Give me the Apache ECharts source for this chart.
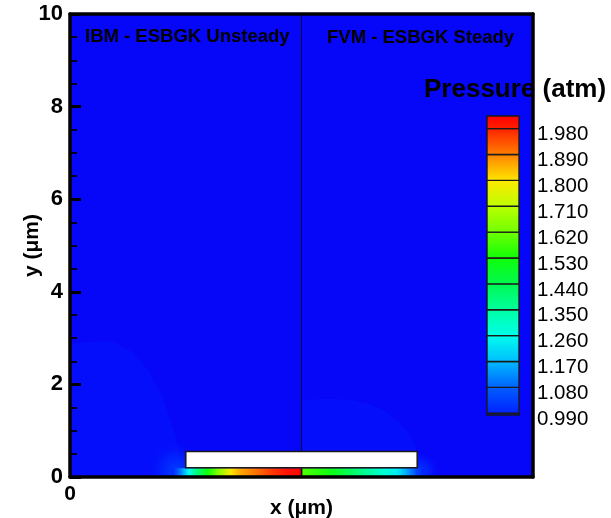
<!DOCTYPE html>
<html><head><meta charset="utf-8">
<script src="https://cdn.jsdelivr.net/npm/echarts@6/dist/echarts.min.js"></script>
<style>html,body{margin:0;padding:0;background:#fff}#c{width:611px;height:518px}</style>
</head><body><div id="c"></div>
<script>
const FONT = '"Liberation Sans", Arial, Helvetica, sans-serif';

// ---- axes ----
const xRange = [0, 10];
const yRange = [0, 10];
const yTickStep = 2;
const xTickLabels = [0];

// ---- colour bar ----
const levels = [0.990, 1.080, 1.170, 1.260, 1.350, 1.440, 1.530, 1.620, 1.710, 1.800, 1.890, 1.980];
const barMin = 0.984, barMax = 2.024;

// ---- colour map (pressure -> colour) ----
const cmapValues = [0.984, 0.99, 1.08, 1.17, 1.26, 1.35, 1.44, 1.53, 1.62, 1.71, 1.80, 1.89, 1.98, 2.024];
const cmapColors = ['#0606f8', '#0020ff', '#0060ff', '#00bcff', '#00ffec', '#00ffa0', '#00f850', '#10ff08', '#70ff00', '#bcff00', '#ffe800', '#ff8000', '#ff2000', '#ff0000'];

// ---- pressure field (atm) ----
const backgroundPressure = 0.984;
// IBM (left half) slightly raised far-field region
const ibmBlobX = [0, 0, 0.4, 0.9, 1.36, 1.7, 2.0, 2.2, 2.35, 2.42];
const ibmBlobY = [0, 2.88, 2.92, 2.93, 2.7, 2.3, 1.75, 1.15, 0.6, 0];
const ibmBlobP = 0.9858;
// FVM (right half) slightly raised region
const fvmBlobX = [5, 5, 5.6, 6.1, 6.5, 6.8, 7.1, 7.3, 7.45, 7.55, 7.6];
const fvmBlobY = [0, 1.67, 1.69, 1.67, 1.57, 1.43, 1.2, 0.98, 0.7, 0.4, 0];
const fvmBlobP = 0.9858;
// glows at the plate ends: [x, y, radius, pressure]
const glowX = [2.3, 7.55];
const glowY = [0.15, 0.12];
const glowR = [0.62, 0.45];
const glowP = [1.03, 1.02];
// pressure along the gap under the plate
const ibmGapX = [2.2, 2.35, 2.48, 2.57, 2.75, 2.98, 3.2, 3.46, 3.7, 4.0, 4.38, 4.7, 5.0];
const ibmGapP = [0.99, 1.08, 1.17, 1.26, 1.40, 1.53, 1.64, 1.79, 1.86, 1.90, 1.96, 2.00, 2.02];
const fvmGapX = [5.0, 5.62, 6.34, 6.77, 7.06, 7.27, 7.49, 7.65];
const fvmGapP = [1.59, 1.52, 1.37, 1.29, 1.24, 1.15, 1.04, 0.99];
const gapTop = 0.19;
// plate and divider
const plateX = [2.5, 7.5];
const plateY = [0.2, 0.55];
const dividerX = 5;

function hexToRgb(h) { return [parseInt(h.slice(1,3),16), parseInt(h.slice(3,5),16), parseInt(h.slice(5,7),16)]; }
function cmap(p, alpha) {
  let i = 0;
  if (p <= cmapValues[0]) i = 0;
  else if (p >= cmapValues[cmapValues.length-1]) i = cmapValues.length - 2;
  else { while (p > cmapValues[i+1]) i++; }
  const a = hexToRgb(cmapColors[i]), b = hexToRgb(cmapColors[i+1]);
  let t = (p - cmapValues[i]) / (cmapValues[i+1] - cmapValues[i]);
  t = Math.max(0, Math.min(1, t));
  const c = a.map((v, k) => Math.round(v + (b[k]-v)*t));
  return 'rgba(' + c[0] + ',' + c[1] + ',' + c[2] + ',' + (alpha == null ? 1 : alpha) + ')';
}

const bands = [];
const bandEdges = [barMin].concat(levels, [barMax]);
for (let i = 0; i < bandEdges.length - 1; i++) bands.push([bandEdges[i], bandEdges[i+1]]);

function rectFrom(api, x0, y0, x1, y1) {
  const a = api.coord([x0, y1]), b = api.coord([x1, y0]);
  return { x: a[0], y: a[1], width: b[0]-a[0], height: b[1]-a[1] };
}

const chart = echarts.init(document.getElementById('c'), null, { renderer: 'canvas' });
const option = {
  animation: false,
  backgroundColor: '#fff',
  textStyle: { fontFamily: FONT },
  grid: [
    { left: 70, top: 14, width: 463, height: 463, outerBoundsMode: 'none', containLabel: false },
    { left: 487, top: 116, width: 32, height: 299, outerBoundsMode: 'none', containLabel: false }
  ],
  xAxis: [
    { gridIndex: 0, type: 'value', min: xRange[0], max: xRange[1], interval: 2, z: 10,
      axisLine: { show: true, onZero: false, lineStyle: { color: '#000', width: 3.5 } },
      axisTick: { show: false }, splitLine: { show: false },
      axisLabel: { fontFamily: FONT, fontSize: 21, fontWeight: 'bold', color: '#000', margin: 7,
        formatter: v => xTickLabels.indexOf(v) >= 0 ? String(v) : '' },
      name: 'x (μm)', nameLocation: 'middle', nameGap: 21, nameMoveOverlap: false,
      nameTextStyle: { fontFamily: FONT, fontSize: 21, fontWeight: 'bold', color: '#000' } },
    { gridIndex: 0, type: 'value', min: xRange[0], max: xRange[1], position: 'top', z: 10,
      axisLine: { show: true, onZero: false, lineStyle: { color: '#000', width: 3.5 } },
      axisTick: { show: false }, axisLabel: { show: false }, splitLine: { show: false } },
    { gridIndex: 1, type: 'value', min: 0, max: 1, show: false }
  ],
  yAxis: [
    { gridIndex: 0, type: 'value', min: yRange[0], max: yRange[1], interval: yTickStep, z: 10,
      axisLine: { show: true, onZero: false, lineStyle: { color: '#000', width: 3.5 } },
      axisTick: { show: true, inside: true, length: 11, lineStyle: { color: '#000', width: 3 } },
      minorTick: { show: true, splitNumber: 4, length: 7, lineStyle: { color: '#000', width: 1.8 } },
      splitLine: { show: false },
      axisLabel: { fontFamily: FONT, fontSize: 22, fontWeight: 'bold', color: '#000', margin: 7 },
      name: 'y (μm)', nameLocation: 'middle', nameGap: 27, nameMoveOverlap: false,
      nameTextStyle: { fontFamily: FONT, fontSize: 21, fontWeight: 'bold', color: '#000' } },
    { gridIndex: 0, type: 'value', min: yRange[0], max: yRange[1], position: 'right', z: 10,
      axisLine: { show: true, onZero: false, lineStyle: { color: '#000', width: 3.5 } },
      axisTick: { show: false }, axisLabel: { show: false }, splitLine: { show: false } },
    { gridIndex: 1, type: 'value', min: barMin, max: barMax, position: 'right',
      axisLine: { show: false }, axisTick: { show: false }, splitLine: { show: false },
      axisLabel: { customValues: levels, fontFamily: FONT, fontSize: 20.5, color: '#000', margin: 18,
        verticalAlign: 'top', lineHeight: 12, formatter: v => v.toFixed(3) } }
  ],
  series: [
    { type: 'custom', name: 'background', xAxisIndex: 0, yAxisIndex: 0, z: 1, clip: true,
      data: [[backgroundPressure]],
      renderItem: (params, api) => ({ type: 'rect',
        shape: rectFrom(api, xRange[0], yRange[0], xRange[1], yRange[1]),
        style: { fill: cmap(api.value(0)) } }) },
    { type: 'custom', name: 'regions', xAxisIndex: 0, yAxisIndex: 0, z: 1, clip: true,
      data: [[ibmBlobP], [fvmBlobP]],
      renderItem: (params, api) => {
        const xs = params.dataIndex === 0 ? ibmBlobX : fvmBlobX;
        const ys = params.dataIndex === 0 ? ibmBlobY : fvmBlobY;
        return { type: 'polygon', shape: { points: xs.map((x, i) => api.coord([x, ys[i]])) },
          style: { fill: cmap(api.value(0)) } };
      } },
    { type: 'custom', name: 'glows', xAxisIndex: 0, yAxisIndex: 0, z: 1, clip: true,
      data: glowX.map((x, i) => [x, glowY[i], glowR[i], glowP[i]]),
      renderItem: (params, api) => {
        const c = api.coord([api.value(0), api.value(1)]);
        const e = api.coord([api.value(0) + api.value(2), api.value(1)]);
        const r = e[0] - c[0];
        const p = api.value(3);
        return { type: 'circle', shape: { cx: c[0], cy: c[1], r: r },
          style: { fill: { type: 'radial', x: 0.5, y: 0.5, r: 0.5, colorStops: [
            { offset: 0, color: cmap(p, 1) }, { offset: 0.5, color: cmap((p + ibmBlobP) / 2, 0.6) },
            { offset: 1, color: cmap(ibmBlobP, 0) }] } } };
      } },
    { type: 'custom', name: 'gap', xAxisIndex: 0, yAxisIndex: 0, z: 2, clip: true,
      data: [[0], [1]],
      renderItem: (params, api) => {
        const xs = params.dataIndex === 0 ? ibmGapX : fvmGapX;
        const ps = params.dataIndex === 0 ? ibmGapP : fvmGapP;
        const x0 = xs[0], x1 = xs[xs.length-1];
        return { type: 'rect', shape: rectFrom(api, x0, 0, x1, gapTop),
          style: { fill: { type: 'linear', x: 0, y: 0, x2: 1, y2: 0,
            colorStops: xs.map((x, i) => ({ offset: (x - x0) / (x1 - x0), color: cmap(ps[i]) })) } } };
      } },
    { type: 'line', name: 'divider', xAxisIndex: 0, yAxisIndex: 0, z: 3, symbol: 'none',
      data: [[dividerX, plateY[1]], [dividerX, yRange[1]]],
      lineStyle: { color: '#0a0a3a', width: 1 } },
    { type: 'line', name: 'gapDivider', xAxisIndex: 0, yAxisIndex: 0, z: 3, symbol: 'none',
      data: [[dividerX, 0], [dividerX, gapTop]],
      lineStyle: { color: '#111', width: 1.8 } },
    { type: 'custom', name: 'plate', xAxisIndex: 0, yAxisIndex: 0, z: 4,
      data: [[plateX[0], plateY[0], plateX[1], plateY[1]]],
      renderItem: (params, api) => ({ type: 'rect',
        shape: rectFrom(api, api.value(0), api.value(1), api.value(2), api.value(3)),
        style: { fill: '#ffffff', stroke: '#1a1a1a', lineWidth: 1.6 } }) },
    { type: 'custom', name: 'colorbar', xAxisIndex: 2, yAxisIndex: 2, z: 2,
      data: bands,
      renderItem: (params, api) => {
        const lo = api.value(0), hi = api.value(1);
        return { type: 'rect', shape: rectFrom(api, 0, lo, 1, hi),
          style: { fill: { type: 'linear', x: 0, y: 0, x2: 0, y2: 1,
            colorStops: [{ offset: 0, color: cmap(hi) }, { offset: 1, color: cmap(lo) }] },
            stroke: '#1a1a1a', lineWidth: 1.4 } };
      } }
  ],
  graphic: [
    { type: 'text', left: 85, top: 27, z: 20, style: { text: 'IBM - ESBGK Unsteady', font: 'bold 18.5px ' + FONT, fill: '#000' } },
    { type: 'text', left: 327, top: 28, z: 20, style: { text: 'FVM - ESBGK Steady', font: 'bold 18.5px ' + FONT, fill: '#000' } },
    { type: 'text', left: 424, top: 77, z: 20, style: { text: 'Pressure (atm)', font: 'bold 26px ' + FONT, fill: '#000' } }
  ]
};
chart.setOption(option);
</script></body></html>
